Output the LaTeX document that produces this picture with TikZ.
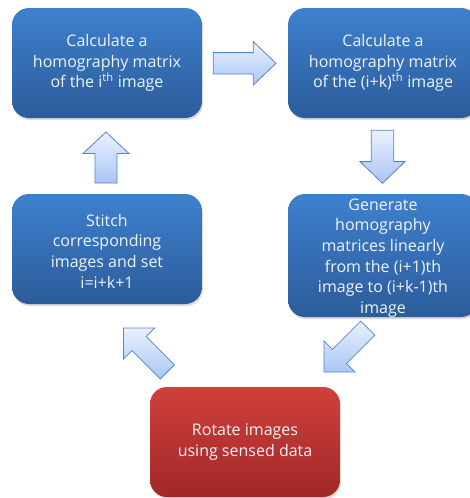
\documentclass[tikz,border=0pt]{standalone}
\usepackage{fontspec}
\setmainfont{Open Sans}
\usetikzlibrary{shadows}
\definecolor{bluetop}{RGB}{62,128,206}
\definecolor{bluebot}{RGB}{44,92,154}
\definecolor{redtop}{RGB}{208,64,60}
\definecolor{redbot}{RGB}{160,40,40}
\definecolor{arrtop}{RGB}{234,241,255}
\definecolor{arrbot}{RGB}{170,198,245}
\definecolor{arrline}{RGB}{84,132,200}
\definecolor{txtc}{RGB}{240,244,250}
\tikzset{
  box/.style={rounded corners=17pt, top color=bluetop, bottom color=bluebot, draw=none,
    minimum width=190pt, minimum height=110pt, inner sep=0pt,
    drop shadow={opacity=0.3, shadow xshift=1pt, shadow yshift=-2pt}},
  redbox/.style={box, top color=redtop, bottom color=redbot},
  boxtext/.style={text=txtc, font=\fontsize{16}{20.7}\selectfont, align=center, inner sep=0pt},
  blockarrow/.style={draw=arrline, line width=0.8pt, top color=arrtop, bottom color=arrbot, line join=miter},
  pics/barrow/.style n args={4}{code={
    \path[blockarrow] (0,0) -- (-#2,#3) -- (-#2,#4) -- (-#1,#4) -- (-#1,-#4) -- (-#2,-#4) -- (-#2,-#3) -- cycle;
  }}
}
\begin{document}
\begin{tikzpicture}[x=1pt,y=-1pt]
\useasboundingbox (0,0) rectangle (470,498);
% boxes
\node[box] (b1) at (107,63) {};
\node[box] (b2) at (383,63) {};
\node[box] (b3) at (107,249) {};
\node[box, minimum height=123pt] (b4) at (383,255.5) {};
\node[redbox] (b5) at (245,442) {};
% texts
\node[boxtext] (t1) at (b1) {Calculate a\\homography matrix\\of the i\textsuperscript{th} image};
\node[boxtext] (t2) at (b2) {Calculate a\\homography matrix\\of the (i+k)\textsuperscript{th} image};
\node[boxtext] (t3) at (107,251) {Stitch\\corresponding\\images and set\\i=i+k+1};
\node[boxtext] (t4) at (383,258) {Generate\\homography\\matrices linearly\\from the (i+1)th\\image to (i+k-1)th\\image};
\node[boxtext] (t5) at (b5) {Rotate images\\using sensed data};
% block arrows
\coordinate (a12) at (276,63.3);
\coordinate (a24) at (382.5,183.3);
\coordinate (a45) at (324,372);
\coordinate (a53) at (123.5,328);
\coordinate (a31) at (106,132);
\pic at (a12) {barrow={62.7}{22.7}{21.7}{10.7}};
\pic[rotate=-90] at (a24) {barrow={53}{21.7}{22.5}{11.3}};
\pic[rotate=-135] at (a45) {barrow={62}{22}{22}{10}};
\pic[rotate=135] at (a53) {barrow={62}{22}{22}{10}};
\pic[rotate=90] at (a31) {barrow={51}{21.5}{23}{11}};
\end{tikzpicture}
\end{document}
